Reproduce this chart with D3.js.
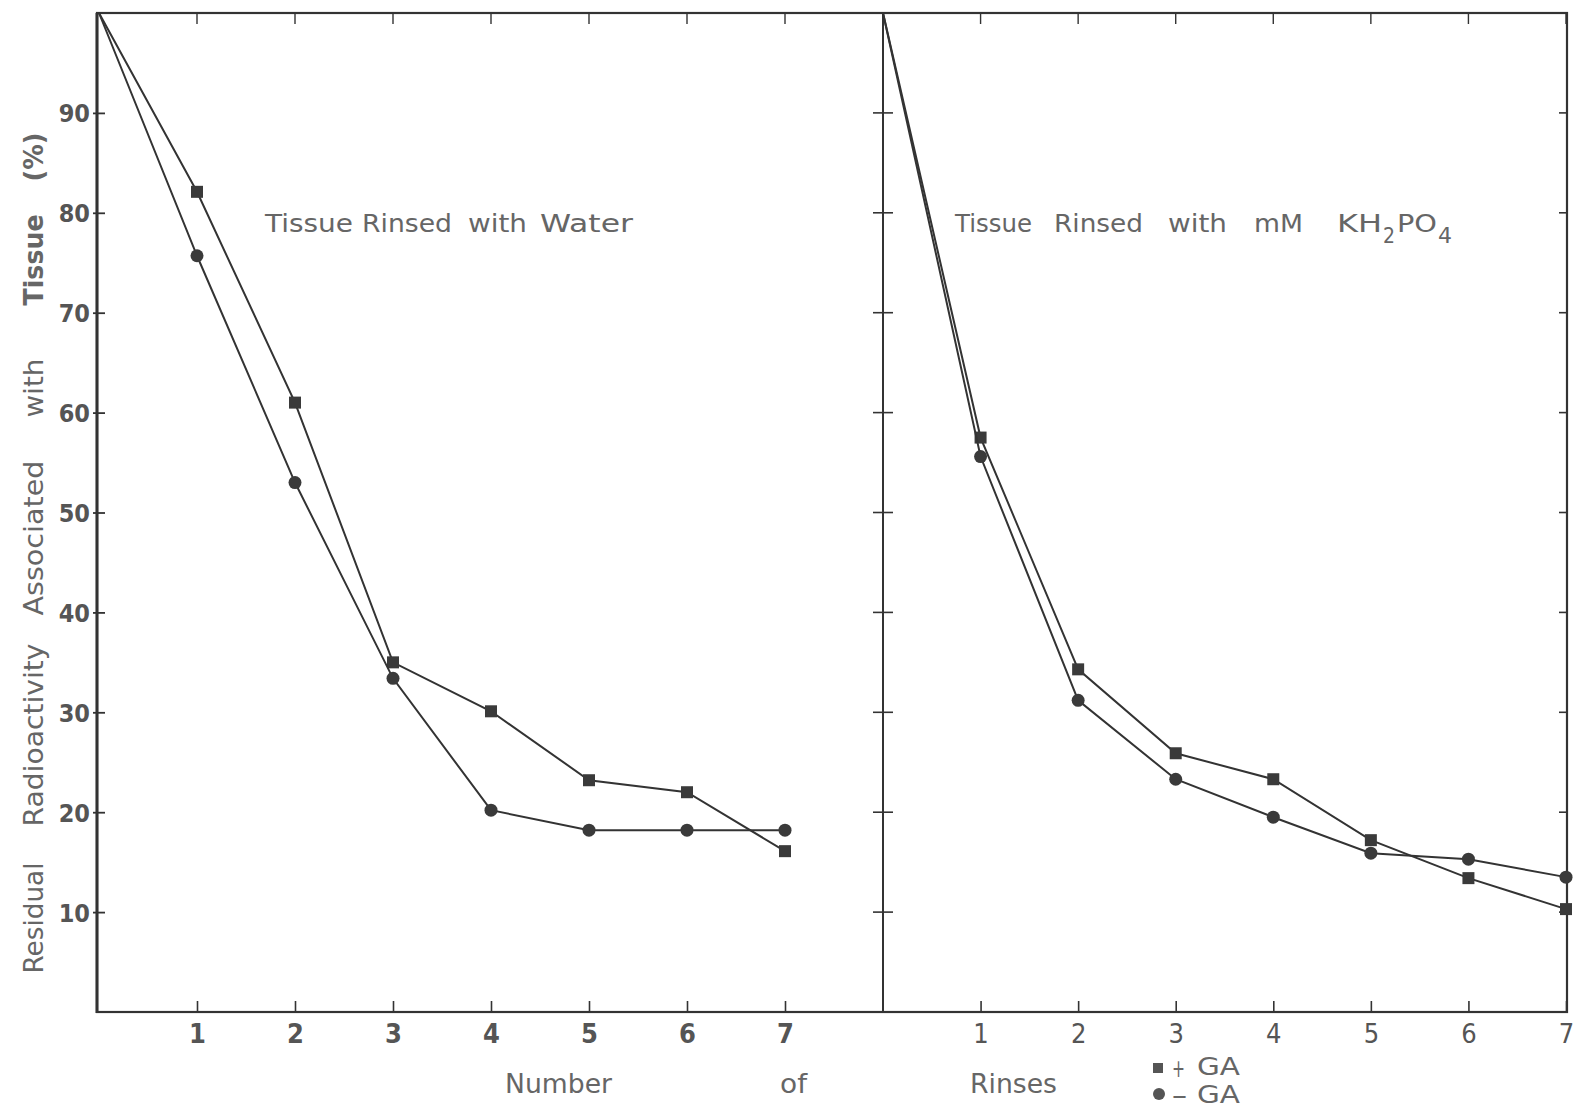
<!DOCTYPE html>
<html>
<head>
<meta charset="utf-8">
<script src="https://cdn.jsdelivr.net/npm/d3@7"></script>
<style>
  body { margin: 0; background: #fff; }
  .tick text { font-family: "Liberation Sans Narrow", "DejaVu Sans Condensed", "Liberation Sans", sans-serif; }
  .lbl { font-family: "DejaVu Sans", "Noto Sans", sans-serif; fill: #666; }
</style>
</head>
<body>
<svg id="chart" width="1576" height="1118"></svg>
<script>
// rinse number, 0 = start (100%)
var rinses = [0, 1, 2, 3, 4, 5, 6, 7];
var waterPlusGA  = [100, 82.1, 61.0, 35.0, 30.1, 23.2, 22.0, 16.1];
var waterMinusGA = [100, 75.7, 53.0, 33.4, 20.2, 18.2, 18.2, 18.2];
var phosPlusGA   = [100, 57.5, 34.3, 25.9, 23.3, 17.2, 13.4, 10.3];
var phosMinusGA  = [100, 55.6, 31.2, 23.3, 19.5, 15.9, 15.3, 13.5];
var yTicks = [10, 20, 30, 40, 50, 60, 70, 80, 90];
var xTicks = [1, 2, 3, 4, 5, 6, 7];

var svg = d3.select("#chart");
var ink = "#333";

var y = d3.scaleLinear().domain([0, 100]).range([1012, 13]);
var xL = d3.scaleLinear().domain([0, 8]).range([99, 883]);
var xR = d3.scaleLinear().domain([0, 7]).range([883, 1566]);

// frame
svg.append("rect")
  .attr("x", 97).attr("y", 13).attr("width", 1470).attr("height", 999)
  .attr("fill", "none").attr("stroke", ink).attr("stroke-width", 2.2);
svg.append("line")
  .attr("x1", 97).attr("x2", 97).attr("y1", 13).attr("y2", 1013)
  .attr("stroke", ink).attr("stroke-width", 3);
svg.append("line")
  .attr("x1", 883).attr("x2", 883).attr("y1", 13).attr("y2", 1012)
  .attr("stroke", ink).attr("stroke-width", 2);

// left y axis
var gy = svg.append("g").attr("transform", "translate(97,0)")
  .call(d3.axisLeft(y).tickValues(yTicks).tickSize(4).tickPadding(3));
gy.select(".domain").remove();
gy.selectAll(".tick line").attr("x1", -4).attr("x2", 8).attr("stroke", ink).attr("stroke-width", 1.8);
gy.selectAll(".tick text").attr("font-size", 25).attr("font-weight", "bold").attr("fill", "#555").attr("dy", "0.36em");

// divider ticks crossing, right border ticks inward
[{x: 883, a: -10, b: 10}, {x: 1567, a: -8, b: 0}].forEach(function(t) {
  svg.append("g").selectAll("line").data(yTicks).join("line")
    .attr("x1", t.x + t.a).attr("x2", t.x + t.b)
    .attr("y1", function(d) { return y(d); }).attr("y2", function(d) { return y(d); })
    .attr("stroke", ink).attr("stroke-width", 1.6);
});

// bottom axes
function bottomAxis(x, bold) {
  var g = svg.append("g").attr("transform", "translate(0,1012)")
    .call(d3.axisBottom(x).tickValues(xTicks).tickFormat(d3.format("d")).tickSize(0).tickPadding(12));
  g.select(".domain").remove();
  g.selectAll(".tick line").attr("y1", -11).attr("y2", 0).attr("stroke", ink).attr("stroke-width", 1.6);
  g.selectAll(".tick text").attr("font-size", 27).attr("fill", "#555")
    .attr("font-weight", bold ? "bold" : "normal").attr("dy", "0.72em");
  // top ticks
  svg.append("g").selectAll("line").data(xTicks).join("line")
    .attr("x1", function(d) { return x(d); }).attr("x2", function(d) { return x(d); })
    .attr("y1", 13).attr("y2", 24).attr("stroke", ink).attr("stroke-width", 1.4);
}
bottomAxis(xL, true);
bottomAxis(xR, false);

// series
function series(x, vals, shape) {
  var pts = rinses.map(function(r, i) { return [x(r), y(vals[i])]; });
  svg.append("path").attr("d", d3.line()(pts))
    .attr("fill", "none").attr("stroke", ink).attr("stroke-width", 2);
  var m = svg.append("g").selectAll(shape === "sq" ? "rect" : "circle")
    .data(pts.slice(1)).join(shape === "sq" ? "rect" : "circle").attr("fill", "#3a3a3a");
  if (shape === "sq") {
    m.attr("x", function(d) { return d[0] - 6; }).attr("y", function(d) { return d[1] - 6; })
      .attr("width", 12).attr("height", 12);
  } else {
    m.attr("cx", function(d) { return d[0]; }).attr("cy", function(d) { return d[1]; }).attr("r", 6.5);
  }
}
series(xL, waterPlusGA, "sq");
series(xL, waterMinusGA, "ci");
series(xR, phosPlusGA, "sq");
series(xR, phosMinusGA, "ci");

// helper: one word, placed by left edge and width
function word(w, x0, x1, yb, size, opts) {
  opts = opts || {};
  return svg.append("text").attr("class", "lbl")
    .attr("x", x0).attr("y", yb).attr("font-size", size)
    .attr("textLength", x1 - x0).attr("lengthAdjust", "spacingAndGlyphs")
    .attr("fill", opts.fill || "#666")
    .text(w);
}

// panel titles
[["Tissue", 265, 353], ["Rinsed", 362, 452], ["with", 468, 527], ["Water", 540, 633]]
  .forEach(function(d) { word(d[0], d[1], d[2], 232, 25, {fill: "#555"}); });
[["Tissue", 955, 1032], ["Rinsed", 1054, 1143], ["with", 1168, 1227], ["mM", 1254, 1303],
 ["KH", 1337, 1382], ["PO", 1397, 1437]]
  .forEach(function(d) { word(d[0], d[1], d[2], 232, 25); });
word("2", 1383, 1395, 243, 22);
word("4", 1438, 1452, 243, 22);

// y label words, rotated
var yWords = [
  {w: "Residual", c: 918, len: 111}, {w: "Radioactivity", c: 735, len: 183},
  {w: "Associated", c: 538, len: 155}, {w: "with", c: 388, len: 59},
  {w: "Tissue", c: 260, len: 91, bold: true}, {w: "(%)", c: 157, len: 49, bold: true}
];
yWords.forEach(function(d) {
  svg.append("text").attr("class", "lbl")
    .attr("transform", "translate(43," + d.c + ") rotate(-90)")
    .attr("text-anchor", "middle").attr("font-size", 26)
    .attr("textLength", d.len).attr("lengthAdjust", "spacingAndGlyphs")
    .attr("font-weight", d.bold ? "bold" : "normal")
    .attr("fill", d.bold ? "#444" : "#666")
    .text(d.w);
});

// x label words
[["Number", 505, 612], ["of", 780, 807], ["Rinses", 970, 1057]].forEach(function(d) {
  word(d[0], d[1], d[2], 1093, 26);
});

// legend
svg.append("rect").attr("x", 1153).attr("y", 1063).attr("width", 10).attr("height", 10).attr("fill", "#555");
svg.append("circle").attr("cx", 1159).attr("cy", 1094).attr("r", 6).attr("fill", "#555");
word("+", 1172, 1185, 1077, 24, {fill: "#555"});
word("GA", 1197, 1240, 1075, 25);
word("\u2013", 1172, 1187, 1104, 26, {fill: "#555"});
word("GA", 1197, 1240, 1103, 25);
</script>
</body>
</html>
